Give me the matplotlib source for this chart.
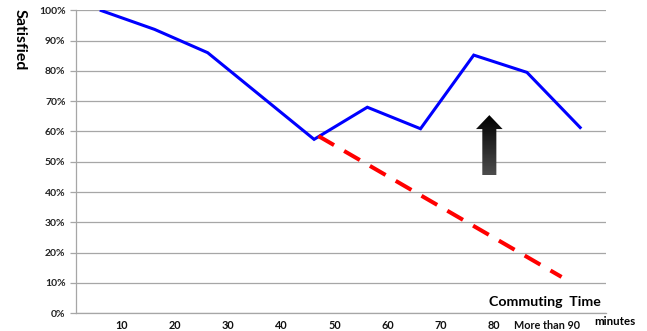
import numpy as np
import matplotlib
matplotlib.use("Agg")
import matplotlib.pyplot as plt
from matplotlib.patches import Polygon
from matplotlib.ticker import PercentFormatter

# -------------------------------------------------------------------
# DATA
# -------------------------------------------------------------------
positions = [1, 2, 3, 4, 5, 6, 7, 8, 9, 10]
satisfied = [0.999, 0.937, 0.860, 0.717, 0.574, 0.680, 0.609, 0.852, 0.795, 0.613]

# projected decline (red dashed)
trend_x = [5.08, 9.65]
trend_y = [0.585, 0.12]

tick_labels = ["10", "20", "30", "40", "50", "60", "70", "80", "More than 90"]
y_ticks = [0.0, 0.1, 0.2, 0.3, 0.4, 0.5, 0.6, 0.7, 0.8, 0.9, 1.0]

FONT = ["Lato", "DejaVu Sans"]
GRID = "#a6a6a6"

# -------------------------------------------------------------------
# FIGURE
# -------------------------------------------------------------------
fig = plt.figure(figsize=(6.47, 3.31), dpi=100)
ax = fig.add_axes([0.117, 0.0535, 0.82, 0.9155])

ax.plot(positions, satisfied, color="#0000ff", linewidth=2.2, solid_joinstyle="miter", zorder=3)
ax.plot(trend_x, trend_y, color="#ff0000", linewidth=2.9, dashes=(4.5, 2.9),
        dash_capstyle="butt", zorder=3)

ax.set_xlim(0.52, 10.49)
ax.set_ylim(0, 1.0)
ax.set_yticks(y_ticks)
ax.yaxis.set_major_formatter(PercentFormatter(1.0, decimals=0))
ax.set_xticks([k + 0.38 for k in range(1, len(tick_labels) + 1)])
ax.set_xticklabels(tick_labels)

ax.grid(axis="y", color=GRID, linewidth=0.9)
ax.set_axisbelow(True)
for side in ["top", "right"]:
    ax.spines[side].set_visible(False)
for side in ["left", "bottom"]:
    ax.spines[side].set_color(GRID)
    ax.spines[side].set_linewidth(0.9)

ax.tick_params(axis="y", length=4.3, width=0.9, color=GRID, pad=3)
ax.tick_params(axis="x", length=0, pad=4.5)
for lab in ax.get_yticklabels():
    lab.set_fontfamily(FONT)
    lab.set_fontweight("bold")
    lab.set_fontsize(7.5)
    lab.set_color("#222222")
for lab in ax.get_xticklabels():
    lab.set_fontfamily(FONT)
    lab.set_fontweight("bold")
    lab.set_fontsize(7.8)
    lab.set_color("#111111")

# black arrow with a vertical gradient
ax_c, hw_shaft, hw_head = 8.293, 0.132, 0.25
y0, y_head, y_tip = 0.456, 0.608, 0.654
verts = [(ax_c - hw_shaft, y0), (ax_c + hw_shaft, y0), (ax_c + hw_shaft, y_head),
         (ax_c + hw_head, y_head), (ax_c, y_tip), (ax_c - hw_head, y_head),
         (ax_c - hw_shaft, y_head)]
arrow = Polygon(verts, closed=True, facecolor="none", edgecolor="none")
ax.add_patch(arrow)
grad = np.linspace(0.3, 0.0, 64).reshape(-1, 1)
img = ax.imshow(grad, cmap="gray", vmin=0, vmax=1, origin="lower",
                extent=(ax_c - hw_head, ax_c + hw_head, y0, y_tip),
                aspect="auto", zorder=4, interpolation="bilinear")
img.set_clip_path(arrow)

# labels
fig.text(0.031, 0.88, "Satisfied", rotation=-90, ha="center", va="center",
         fontsize=11.5, fontweight="bold", family=FONT)
fig.text(0.842, 0.087, "Commuting  Time", ha="center", va="center",
         fontsize=10.2, fontweight="bold", family=FONT)
fig.text(0.951, 0.028, "minutes", ha="center", va="center",
         fontsize=8.3, fontweight="bold", family=FONT)

fig.savefig("out.png", dpi=100)
